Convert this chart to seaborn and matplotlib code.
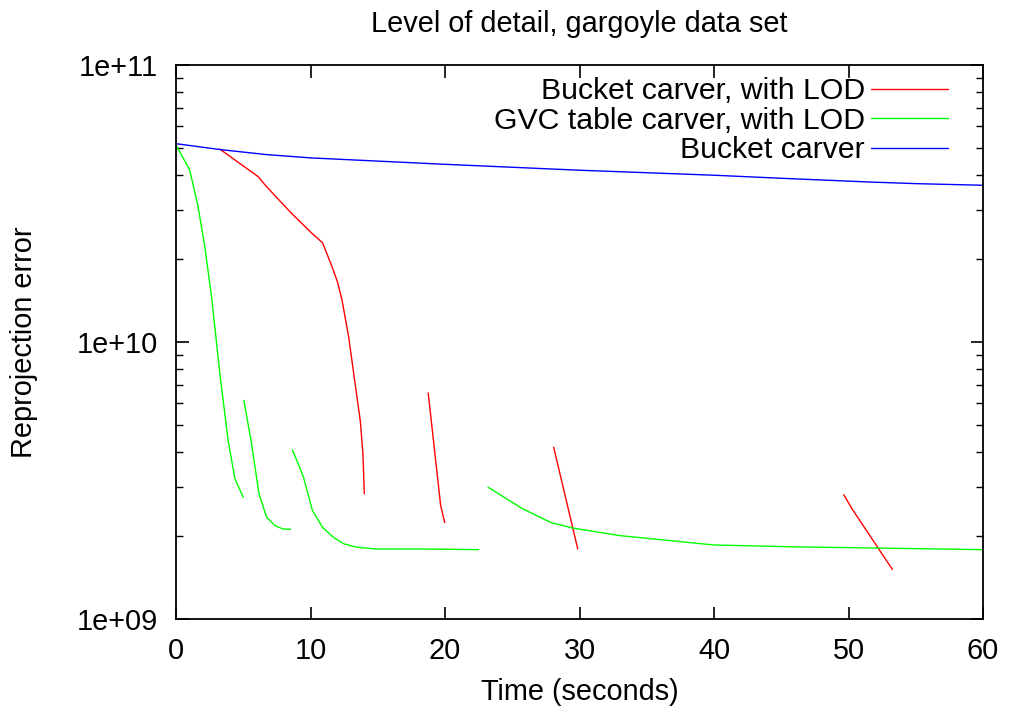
import matplotlib
matplotlib.use("Agg")
import matplotlib.pyplot as plt
import seaborn as sns
import pandas as pd
import numpy as np
from matplotlib.ticker import LogLocator, FixedLocator, NullLocator

# ---- data ----
series_names = ["Bucket carver, with LOD", "GVC table carver, with LOD", "Bucket carver"]
series_colors = ["#ff0000", "#00ff00", "#0000ff"]

red_x = [
    [3.26, 6.12, 6.62, 7.37, 8.6, 10.1, 10.9, 11.6, 12.0, 12.34, 12.84, 13.46, 13.7, 13.9, 14.0],
    [18.75, 19.68, 19.98],
    [28.08, 29.87],
    [49.65, 50.26, 53.26],
]
red_y = [
    [4.97e10, 3.95e10, 3.69e10, 3.37e10, 2.91e10, 2.47e10, 2.28e10, 1.87e10, 1.65e10, 1.42e10, 1.04e10, 6.3e9, 5.2e9, 3.95e9, 2.83e9],
    [6.55e9, 2.56e9, 2.23e9],
    [4.17e9, 1.79e9],
    [2.81e9, 2.50e9, 1.51e9],
]

green_x = [
    [0.0, 1.02, 1.64, 2.14, 2.64, 3.26, 3.88, 4.38, 5.0],
    [5.05, 5.62, 6.17, 6.74, 7.37, 8.0, 8.53],
    [8.66, 9.48, 10.15, 10.9, 11.72, 12.46, 13.34, 14.8, 18.06, 22.5],
    [23.2, 25.77, 27.87, 29.5, 33.0, 40.0, 46.4, 50.0, 60.0],
]
green_y = [
    [5.14e10, 4.18e10, 3.08e10, 2.21e10, 1.46e10, 7.69e9, 4.4e9, 3.21e9, 2.75e9],
    [6.15e9, 4.29e9, 2.83e9, 2.33e9, 2.17e9, 2.11e9, 2.11e9],
    [4.08e9, 3.25e9, 2.46e9, 2.14e9, 1.97e9, 1.87e9, 1.82e9, 1.79e9, 1.79e9, 1.78e9],
    [2.99e9, 2.50e9, 2.23e9, 2.13e9, 2.0e9, 1.85e9, 1.82e9, 1.81e9, 1.78e9],
]

blue_x = [[0.0, 3.3, 6.7, 10.0, 20.0, 30.0, 40.0, 45.0, 51.6, 55.0, 60.0]]
blue_y = [[5.2e10, 4.95e10, 4.75e10, 4.62e10, 4.38e10, 4.17e10, 4.0e10, 3.9e10, 3.78e10, 3.73e10, 3.68e10]]

x_ticks = [0, 10, 20, 30, 40, 50, 60]
y_ticks = [1e9, 1e10, 1e11]
y_tick_labels = ["1e+09", "1e+10", "1e+11"]

title = "Level of detail, gargoyle data set"
x_label = "Time (seconds)"
y_label = "Reprojection error"

# ---- build long table ----
rows = []
for name, xs_list, ys_list in zip(series_names, [red_x, green_x, blue_x], [red_y, green_y, blue_y]):
    for seg, (xs, ys) in enumerate(zip(xs_list, ys_list)):
        for xv, yv in zip(xs, ys):
            rows.append({"series": name, "segment": f"{name}-{seg}", "x": xv, "y": yv})
df = pd.DataFrame(rows)

sns.set_theme(style="white")
plt.rcParams["font.family"] = ["Liberation Sans", "DejaVu Sans"]
plt.rcParams["text.color"] = "black"
plt.rcParams["axes.labelcolor"] = "black"
plt.rcParams["xtick.color"] = "black"
plt.rcParams["ytick.color"] = "black"

FS = 20.8

fig = plt.figure(figsize=(10.1, 7.13), dpi=100)
ax = fig.add_axes([176 / 1010, 1 - 619 / 713, (983 - 176) / 1010, (619 - 65) / 713])

sns.lineplot(
    data=df, x="x", y="y", hue="series", units="segment", estimator=None,
    hue_order=series_names, palette=series_colors, linewidth=1.0, ax=ax, sort=False,
)

ax.set_yscale("log")
ax.set_xlim(0, 60)
ax.set_ylim(1e9, 1e11)
ax.xaxis.set_major_locator(FixedLocator(x_ticks))
ax.xaxis.set_minor_locator(NullLocator())
ax.set_xticklabels([str(t) for t in x_ticks])
ax.yaxis.set_major_locator(FixedLocator(y_ticks))
ax.set_yticklabels(y_tick_labels)
ax.yaxis.set_minor_locator(LogLocator(base=10, subs=np.arange(2, 10)))

ax.tick_params(axis="both", which="both", direction="in", top=True, right=True,
               bottom=True, left=True, colors="black", labelcolor="black", labelsize=FS)
ax.tick_params(axis="both", which="major", length=9, width=1.2)
ax.tick_params(axis="y", which="minor", length=5, width=1.0)
ax.tick_params(axis="y", which="major", pad=13)
ax.tick_params(axis="x", which="major", pad=13)

for s in ax.spines.values():
    s.set_color("black")
    s.set_linewidth(1.3)
    s.set_visible(True)

ax.set_title(title, fontsize=FS, pad=24, color="black")
ax.set_xlabel(x_label, fontsize=FS, labelpad=9, color="black")
ax.set_ylabel(y_label, fontsize=FS, labelpad=28, color="black")

handles, labels = ax.get_legend_handles_labels()
leg = ax.legend(handles, labels, loc="upper right", frameon=False, markerfirst=False,
                fontsize=21.8, handlelength=2.55, handletextpad=0.2, labelspacing=0.05,
                borderaxespad=0.0, bbox_to_anchor=(0.972, 1.0))
for t in leg.get_texts():
    t.set_ha("right")
    t.set_color("black")
for line in leg.get_lines():
    line.set_linewidth(1.0)

fig.savefig("out.png", dpi=100)
